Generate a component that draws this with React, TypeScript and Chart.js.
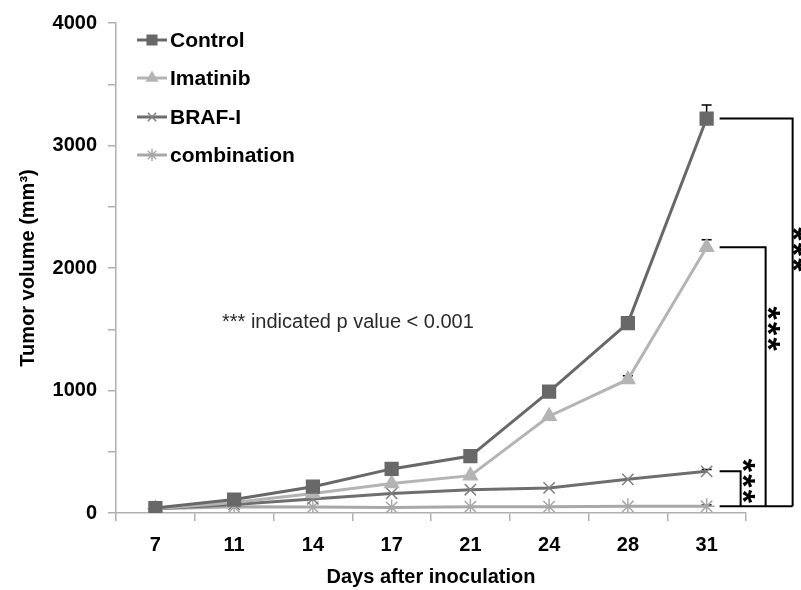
import React, { useEffect, useRef } from 'react';
import { Chart, registerables } from 'chart.js';
import { drawPoint } from 'chart.js/helpers';

Chart.register(...registerables);

const days = ['7', '11', '14', '17', '21', '24', '28', '31'];
const control = [40, 110, 215, 360, 465, 990, 1550, 3220];
const imatinib = [35, 85, 160, 240, 305, 790, 1090, 2170];
const brafI = [35, 70, 115, 160, 190, 205, 275, 340];
const combination = [35, 50, 48, 45, 52, 52, 55, 55];

const controlErr = [0, 0, 0, 0, 0, 0, 0, 110];
const imatinibErr = [0, 0, 0, 0, 0, 0, 30, 60];
const brafIErr = [0, 0, 0, 0, 0, 0, 0, 15];
const combinationErr = [0, 0, 0, 0, 0, 0, 0, 10];

const seriesNames = ['Control', 'Imatinib', 'BRAF-I', 'combination'];
const noteText = '*** indicated p value < 0.001';
const starText = '*';

const FONT = '"Liberation Sans", Arial, sans-serif';

const styles = [
  { color: '#686868', point: 'rect', radius: 9, pointColor: '#686868' },
  { color: '#b4b4b4', point: 'triangle', radius: 8, pointColor: '#b4b4b4' },
  { color: '#6e6e6e', point: 'crossRot', radius: 8, pointColor: '#808080' },
  { color: '#a8a8a8', point: 'star', radius: 8, pointColor: '#a8a8a8' },
];

const errorBars = {
  id: 'errorBars',
  beforeDatasetsDraw(chart: any) {
    const ctx = chart.ctx;
    const y = chart.scales.y;
    const errs = [controlErr, imatinibErr, brafIErr, combinationErr];
    ctx.save();
    ctx.strokeStyle = '#000';
    ctx.lineWidth = 1.5;
    chart.data.datasets.forEach((ds: any, i: number) => {
      const meta = chart.getDatasetMeta(i);
      meta.data.forEach((pt: any, j: number) => {
        const e = errs[i][j];
        if (!e) return;
        const v = ds.data[j];
        const yt = y.getPixelForValue(v + e);
        const yb = y.getPixelForValue(v);
        ctx.beginPath();
        ctx.moveTo(pt.x, yb);
        ctx.lineTo(pt.x, yt);
        ctx.moveTo(pt.x - 5, yt);
        ctx.lineTo(pt.x + 5, yt);
        ctx.stroke();
      });
    });
    ctx.restore();
  },
};

function drawStars(ctx: any, x: number, yCenter: number) {
  const size = 34;
  ctx.save();
  ctx.fillStyle = '#000';
  ctx.font = 'bold ' + size + 'px ' + FONT;
  ctx.textAlign = 'center';
  ctx.textBaseline = 'alphabetic';
  for (let k = -1; k <= 1; k++) {
    ctx.save();
    ctx.translate(x, yCenter + k * 15.5);
    ctx.rotate(Math.PI / 2);
    ctx.fillText(starText, 0, size * 0.43);
    ctx.restore();
  }
  ctx.restore();
}

const annotations = {
  id: 'annotations',
  afterDraw(chart: any) {
    const ctx = chart.ctx;
    const y = chart.scales.y;
    const x = chart.scales.x;
    const last = days.length - 1;
    const xl = x.getPixelForValue(last) + 13;
    const yBottom = y.getPixelForValue(combination[last]);
    const yC = y.getPixelForValue(control[last]);
    const yI = y.getPixelForValue(imatinib[last]);
    const yB = y.getPixelForValue(brafI[last]);
    ctx.save();
    ctx.strokeStyle = '#000';
    ctx.lineWidth = 2;
    const xC = xl + 73;
    const xI = xl + 46;
    const xB = xl + 21;
    ctx.beginPath();
    ctx.moveTo(xl, yC); ctx.lineTo(xC, yC); ctx.lineTo(xC, yBottom);
    ctx.moveTo(xl, yI); ctx.lineTo(xI, yI); ctx.lineTo(xI, yBottom);
    ctx.moveTo(xl, yB); ctx.lineTo(xB, yB); ctx.lineTo(xB, yBottom);
    ctx.moveTo(xl, yBottom); ctx.lineTo(xC, yBottom);
    ctx.stroke();
    ctx.restore();
    drawStars(ctx, xC + 4, (yC + yBottom) / 2 - 63);
    drawStars(ctx, xI + 6, (yI + yBottom) / 2 - 48);
    drawStars(ctx, xB + 5.5, (yB + yBottom) / 2 - 8);

    // note text
    ctx.save();
    ctx.fillStyle = '#2a2a2a';
    ctx.font = '20px ' + FONT;
    ctx.textAlign = 'left';
    ctx.textBaseline = 'middle';
    ctx.fillText(noteText, 222, 322);
    ctx.restore();

    // legend
    const ca = chart.chartArea;
    const lx = ca.left + 21;
    const rows = [40, 78, 117, 155];
    ctx.save();
    chart.data.datasets.forEach((ds: any, i: number) => {
      const st = styles[i];
      const ry = rows[i];
      ctx.strokeStyle = st.color;
      ctx.lineWidth = 3;
      ctx.beginPath();
      ctx.moveTo(lx, ry);
      ctx.lineTo(lx + 30, ry);
      ctx.stroke();
      ctx.fillStyle = st.pointColor;
      ctx.strokeStyle = st.pointColor;
      ctx.lineWidth = 1.5;
      drawPoint(ctx, { pointStyle: st.point, radius: st.radius * 0.75, rotation: 0, borderWidth: 1.5 }, lx + 15, ry);
      ctx.fillStyle = '#000';
      ctx.font = 'bold 21px ' + FONT;
      ctx.textBaseline = 'middle';
      ctx.textAlign = 'left';
      ctx.fillText(ds.label, lx + 33, ry + 1);
    });
    ctx.restore();
  },
};

export default function App() {
  const ref = useRef<HTMLCanvasElement>(null);
  useEffect(() => {
    if (!ref.current) return;
    Chart.defaults.font.family = FONT;
    const series = [control, imatinib, brafI, combination];
    const chart = new Chart(ref.current, {
      type: 'line',
      data: {
        labels: days,
        datasets: series.map((d, i) => ({
          label: seriesNames[i],
          data: d,
          borderColor: styles[i].color,
          backgroundColor: styles[i].pointColor,
          pointBorderColor: styles[i].pointColor,
          pointBackgroundColor: styles[i].pointColor,
          borderWidth: 3,
          pointStyle: styles[i].point as any,
          pointRadius: styles[i].radius,
          pointBorderWidth: 1.5,
          tension: 0,
        })),
      },
      options: {
        animation: false,
        responsive: true,
        maintainAspectRatio: false,
        layout: { padding: { left: 0, right: 55, top: 20, bottom: 0 } },
        plugins: { legend: { display: false }, tooltip: { enabled: false } },
        scales: {
          x: {
            offset: true,
            grid: { display: true, drawOnChartArea: false, offset: true, tickLength: 8, color: '#b0b0b0', lineWidth: 1.5 },
            border: { color: '#b0b0b0', width: 1.5 },
            ticks: { color: '#000', font: { size: 20, weight: 'bold' }, padding: 12, autoSkip: false, maxRotation: 0 },
            title: { display: true, text: 'Days after inoculation', color: '#000', font: { size: 20, weight: 'bold' }, padding: { top: 0, bottom: 1 } },
            afterFit: (s: any) => { s.height = 77; },
          },
          y: {
            min: 0,
            max: 4000,
            grid: { display: true, drawOnChartArea: false, tickLength: 8, color: '#b0b0b0', lineWidth: 1.5 },
            border: { color: '#b0b0b0', width: 1.5 },
            ticks: {
              stepSize: 500,
              autoSkip: false,
              color: '#000',
              font: { size: 20, weight: 'bold' },
              padding: 11,
              callback: (v: any) => (Number(v) % 1000 === 0 ? String(v) : ''),
            },
            title: { display: true, text: 'Tumor volume (mm³)', color: '#000', font: { size: 20, weight: 'bold' }, padding: { top: 16, bottom: 0 } },
            afterFit: (s: any) => { s.width = 116; },
          },
        },
      },
      plugins: [errorBars, annotations],
    });
    return () => chart.destroy();
  }, []);
  return (
    <div style={{ position: 'fixed', left: 0, top: 0, width: 801, height: 590, background: '#fff' }}>
      <canvas ref={ref} />
    </div>
  );
}
